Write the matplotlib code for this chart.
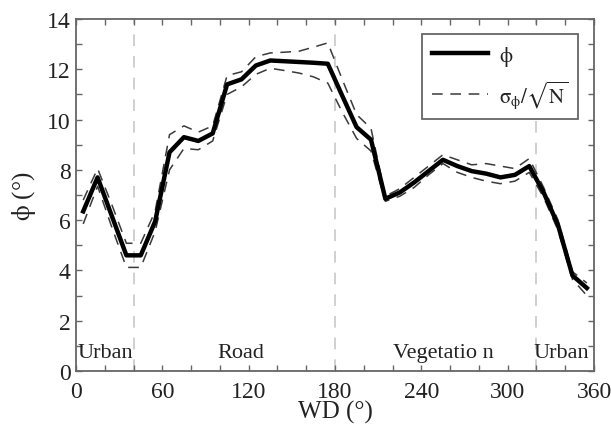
import matplotlib
matplotlib.use('Agg')
import matplotlib.pyplot as plt
from matplotlib.ticker import MultipleLocator

# 風向 (中心值，每 10 度一個區間)
wd = [5, 15, 25, 35, 45, 55, 65, 75, 85, 95, 105, 115, 125, 135, 145, 155, 165, 175,
      185, 195, 205, 215, 225, 235, 245, 255, 265, 275, 285, 295, 305, 315, 325, 335, 345, 355]

phi = [6.35, 7.7, 6.15, 4.6, 4.6, 5.95, 8.7, 9.3, 9.15, 9.45, 11.4, 11.6, 12.15, 12.35,
       12.32, 12.29, 12.26, 12.22, 10.95, 9.7, 9.2, 6.85, 7.1, 7.5, 7.95, 8.4, 8.15, 7.95,
       7.85, 7.7, 7.8, 8.15, 7.1, 5.8, 3.8, 3.3]

phi_upper = [6.8, 8.05, 6.6, 5.08, 5.08, 6.35, 9.4, 9.75, 9.5, 9.75, 11.75, 11.9, 12.5, 12.65,
             12.68, 12.72, 12.88, 13.05, 11.6, 10.2, 9.65, 6.95, 7.25, 7.7, 8.15, 8.6, 8.4, 8.2,
             8.25, 8.15, 8.05, 8.45, 7.3, 6.0, 3.95, 3.5]

phi_lower = [5.85, 7.35, 5.7, 4.12, 4.12, 5.55, 8.0, 8.85, 8.8, 9.15, 11.0, 11.3, 11.8, 12.04,
             11.95, 11.85, 11.7, 11.45, 10.3, 9.25, 8.75, 6.75, 6.95, 7.3, 7.8, 8.25, 7.9, 7.7,
             7.55, 7.45, 7.55, 7.9, 6.9, 5.6, 3.65, 3.0]

# 扇區邊界與標籤
sector_edges = [40, 180, 320]
sector_names = ['Urban', 'Road', 'Vegetatio n', 'Urban']
sector_pos = [1, 98, 220, 318]

plt.rcParams['font.family'] = ['Liberation Serif', 'DejaVu Serif']
plt.rcParams['mathtext.fontset'] = 'stix'
plt.rcParams['font.size'] = 17

text_c = '#222222'
spine_c = '#666666'

fig = plt.figure(figsize=(6.11, 4.31), dpi=100)
ax = fig.add_axes([0.1244, 0.1369, 0.8478, 0.8167])

for x in sector_edges:
    ax.axvline(x, color='#c8c8c8', lw=1.2, ls=(0, (7, 6)), zorder=1)

ax.plot(wd, phi, color='black', lw=3.2, label=r'$\mathrm{\phi}$', zorder=3)
ax.plot(wd, phi_upper, color='#3a3a3a', lw=1.1, ls=(0, (7, 5)),
        label=r'$\mathrm{\sigma_{\phi}/\sqrt{N}}$', zorder=2)
ax.plot(wd, phi_lower, color='#3a3a3a', lw=1.1, ls=(0, (7, 5)), zorder=2)

for name, x in zip(sector_names, sector_pos):
    ax.text(x, 0.35, name, ha='left', va='bottom', fontsize=16, color=text_c)

ax.set_xlim(0, 360)
ax.set_ylim(0, 14)
ax.xaxis.set_major_locator(MultipleLocator(60))
ax.xaxis.set_minor_locator(MultipleLocator(20))
ax.yaxis.set_major_locator(MultipleLocator(2))
ax.yaxis.set_minor_locator(MultipleLocator(1))
ax.tick_params(which='both', direction='in', top=True, right=True,
               length=4, width=1, color=spine_c, labelcolor=text_c, labelsize=17)
ax.tick_params(axis='x', pad=7)
ax.tick_params(axis='y', pad=4)

for s in ax.spines.values():
    s.set_color(spine_c)
    s.set_linewidth(1.3)

ax.set_xlabel('WD (°)', fontsize=18, color=text_c, labelpad=-1)
ax.set_ylabel(r'$\mathrm{\phi}$ (°)', fontsize=18, color=text_c, labelpad=6)

leg = ax.legend(loc='upper right', bbox_to_anchor=(0.969, 0.957), fontsize=15,
                fancybox=False, framealpha=1, edgecolor=spine_c, handlelength=2.7,
                borderpad=0.45, labelspacing=0.5, handletextpad=0.55, borderaxespad=0)
leg.get_frame().set_linewidth(1.3)
for t in leg.get_texts():
    t.set_color(text_c)

plt.savefig('out.png', dpi=100)
plt.close()
